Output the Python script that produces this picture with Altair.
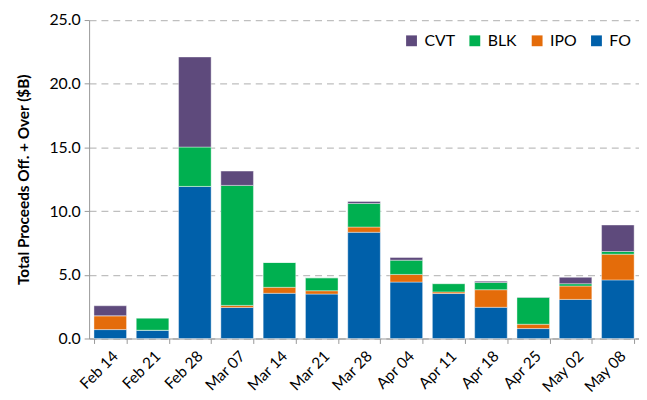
import altair as alt
import pandas as pd

weeks = ["Feb 14", "Feb 21", "Feb 28", "Mar 07", "Mar 14", "Mar 21", "Mar 28",
         "Apr 04", "Apr 11", "Apr 18", "Apr 25", "May 02", "May 08"]
fo  = [0.70, 0.65, 11.94, 2.44, 3.55, 3.49, 8.34, 4.43, 3.53, 2.45, 0.78, 3.07, 4.60]
ipo = [1.09, 0.00, 0.00, 0.16, 0.47, 0.26, 0.41, 0.60, 0.13, 1.38, 0.34, 1.05, 2.02]
blk = [0.00, 0.96, 3.09, 9.42, 1.95, 1.02, 1.85, 1.12, 0.65, 0.57, 2.11, 0.18, 0.21]
cvt = [0.78, 0.00, 7.07, 1.12, 0.00, 0.00, 0.16, 0.21, 0.00, 0.10, 0.03, 0.50, 2.08]

series = ["CVT", "BLK", "IPO", "FO"]
colors = ["#5E4A7C", "#00B050", "#E46C0A", "#0060AA"]
stack_order = {"FO": 0, "IPO": 1, "BLK": 2, "CVT": 3}
values = {"FO": fo, "IPO": ipo, "BLK": blk, "CVT": cvt}

rows = []
for s in ["FO", "IPO", "BLK", "CVT"]:
    for w, v in zip(weeks, values[s]):
        rows.append({"week": w, "type": s, "value": v, "ord": stack_order[s]})
df = pd.DataFrame(rows)

font = "Lato"

chart = alt.Chart(df).mark_bar(stroke="white", strokeWidth=0.4).encode(
    x=alt.X("week:N", sort=weeks,
            scale=alt.Scale(paddingInner=0.23, paddingOuter=0.115),
            axis=alt.Axis(title=None, labelAngle=-45, labelFontSize=15.5, labelFont=font,
                          labelColor="#000000", domainColor="#999999", tickColor="#999999",
                          tickBand="extent", tickSize=5, labelPadding=5,
                          labelAlign="right", labelBaseline="top")),
    y=alt.Y("value:Q", stack="zero",
            scale=alt.Scale(domain=[0, 25], nice=False),
            axis=alt.Axis(title="Total Proceeds Off. + Over ($B)", titleFontSize=15.5,
                          titleFont=font, titleFontWeight="bold", titleColor="#000000",
                          titlePadding=18,
                          values=[0, 5, 10, 15, 20, 25], format=".1f",
                          labelFontSize=16, labelFont=font, labelColor="#000000",
                          labelPadding=4,
                          domainColor="#999999", tickColor="#999999", tickSize=5,
                          grid=True, gridColor="#BFBFBF", gridDash=[7, 5], gridWidth=1.3)),
    color=alt.Color("type:N", scale=alt.Scale(domain=series, range=colors),
                    legend=alt.Legend(title=None, orient="none", direction="horizontal",
                                      legendX=318, legendY=13, symbolType="square",
                                      symbolSize=120, symbolStrokeWidth=0,
                                      labelOffset=5,
                                      labelFontSize=16, labelFont=font,
                                      labelColor="#000000", columnPadding=12)),
    order=alt.Order("ord:Q", sort="ascending"),
).properties(
    width=556, height=322,
    autosize=alt.AutoSizeParams(type="none"),
    padding={"left": 82, "top": 10, "right": 0, "bottom": 60},
).configure_view(stroke=None)

chart.save("out.html", embed_options={"renderer": "svg", "actions": False})
